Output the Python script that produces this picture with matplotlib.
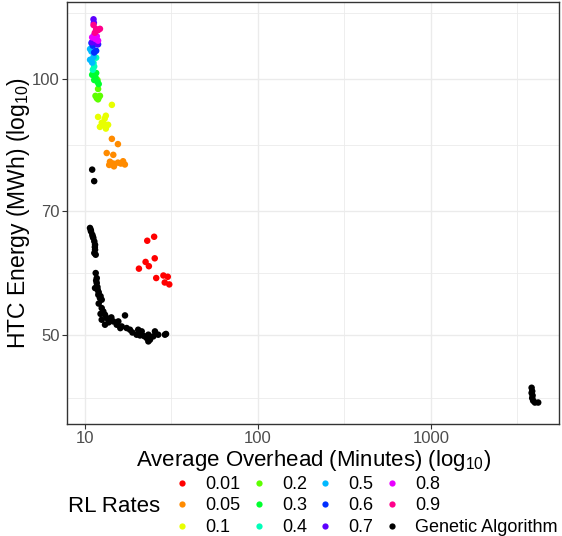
import matplotlib
matplotlib.use("Agg")
import matplotlib.pyplot as plt
from matplotlib.lines import Line2D
from matplotlib.ticker import FixedLocator, NullFormatter
import numpy as np

plt.rcParams['font.family'] = ['Liberation Sans', 'DejaVu Sans']
plt.rcParams['mathtext.fontset'] = 'custom'
plt.rcParams['mathtext.rm'] = 'Liberation Sans'
plt.rcParams['mathtext.it'] = 'Liberation Sans'

# ---- data ----
labels = ["0.01", "0.05", "0.1", "0.2", "0.3", "0.4", "0.5", "0.6", "0.7", "0.8", "0.9", "Genetic Algorithm"]
colors = ["#FF0000", "#FF8B00", "#E8FF00", "#5DFF00", "#00FF2E", "#00FFB9",
          "#00B9FF", "#002EFF", "#5D00FF", "#E800FF", "#FF008B", "#000000"]

x_001 = [20.5, 22.4, 22.9, 23.4, 25.1, 25.3, 25.8, 28.4, 28.9, 30.1, 30.7]
y_001 = [59.9, 61.0, 64.6, 60.3, 65.3, 61.6, 58.4, 58.8, 57.7, 58.6, 57.4]

x_005 = [14.3, 15.5, 13.35, 14.57, 13.94, 14.57, 15.5, 16.6, 17.0, 14.7, 13.8, 16.1]
y_005 = [85.1, 83.9, 81.9, 81.5, 80.0, 79.6, 79.8, 80.1, 79.4, 79.0, 79.3, 79.6]

x_01 = [14.3, 11.9, 13.2, 13.0, 12.5, 13.6, 12.2, 13.2, 12.9]
y_01 = [93.3, 90.3, 90.6, 89.9, 88.9, 88.4, 87.9, 87.5, 88.6]

x_02 = [11.8, 11.9, 11.5, 11.7, 12.0, 12.2, 11.9]
y_02 = [99.8, 97.4, 95.6, 95.0, 95.2, 95.6, 94.7]

x_03 = [11.6, 11.3, 11.8, 11.0, 11.5, 12.0]
y_03 = [101.7, 99.8, 99.3, 101.2, 100.5, 98.7]

x_04 = [11.3, 11.6, 11.2, 11.1, 11.3]
y_04 = [106.3, 106.0, 104.5, 102.6, 103.5]

x_05 = [10.7, 10.9, 10.7, 11.0, 11.2]
y_05 = [108.5, 107.8, 105.4, 104.6, 106.2]

x_06 = [10.9, 11.1, 11.5, 11.9, 11.6, 11.3]
y_06 = [110.3, 109.5, 110.5, 109.9, 108.0, 107.5]

x_07 = [11.2, 11.25, 11.0, 11.8, 11.3]
y_07 = [117.6, 116.5, 110.5, 110.0, 112.0]

x_08 = [11.0, 11.3, 11.7, 11.9, 11.5]
y_08 = [112.0, 112.7, 112.3, 111.0, 111.5]

x_09 = [11.2, 11.6, 11.9, 12.2, 11.4]
y_09 = [115.8, 114.5, 114.2, 114.6, 113.4]

x_ga = [11.0, 11.3,
        10.69, 10.83, 11.02, 11.17, 11.32, 11.43, 11.43, 11.32, 11.53, 10.8, 11.1, 11.4,
        11.53, 11.69, 11.69, 11.43, 11.84, 11.94, 12.2, 12.49, 11.6, 11.8, 12.0, 12.3,
        12.49, 12.76, 13.05, 12.49, 13.35, 13.94, 14.57, 15.58, 17.03, 15.25, 16.3, 17.41,
        18.2, 20.3, 19.88, 21.27, 22.74, 23.24, 24.8, 25.37, 26.5, 28.97, 23.75, 13.05,
        12.0, 12.3, 13.7, 14.2, 16.0, 18.8, 20.8, 22.0, 23.24, 29.4,
        3820, 3820, 3850, 3900, 3990, 4170, 3850, 3870]
y_ga = [78.3, 75.9,
        66.87, 66.25, 65.66, 65.08, 64.48, 63.9, 63.04, 62.48, 62.2, 66.5, 65.3, 63.5,
        59.19, 58.39, 57.61, 56.84, 56.57, 55.81, 55.32, 55.07, 58.0, 57.0, 56.2, 55.6,
        53.84, 53.35, 52.88, 52.17, 52.41, 52.17, 51.93, 51.93, 52.78, 51.47, 51.23, 51.01,
        50.78, 50.78, 50.10, 50.55, 49.65, 50.10, 49.87, 50.55, 50.10, 50.10, 49.43, 51.47,
        54.5, 53.0, 51.8, 52.5, 51.0, 50.4, 50.0, 49.9, 49.2, 50.2,
        43.4, 42.8, 42.2, 41.9, 41.7, 41.7, 43.0, 42.5]

series = [(x_001, y_001), (x_005, y_005), (x_01, y_01), (x_02, y_02), (x_03, y_03),
          (x_04, y_04), (x_05, y_05), (x_06, y_06), (x_07, y_07), (x_08, y_08),
          (x_09, y_09), (x_ga, y_ga)]

x_ticks = [10, 100, 1000]
y_ticks = [50, 70, 100]

# ---- figure ----
W, H = 562, 536
fig = plt.figure(figsize=(W / 100, H / 100), dpi=100)
ax = fig.add_axes([67.3 / W, 1 - 423.5 / H, (559 - 67.3) / W, (423.5 - 1.5) / H])

for (xs, ys), c in zip(series, colors):
    ax.scatter(xs, ys, s=22, color=c, edgecolors='none', zorder=3)

ax.set_xscale('log')
ax.set_yscale('log')
ax.set_xlim(7.9, 5500)
ax.set_ylim(39.4, 123.4)

ax.xaxis.set_major_locator(FixedLocator(x_ticks))
ax.yaxis.set_major_locator(FixedLocator(y_ticks))
ax.set_xticklabels([str(v) for v in x_ticks])
ax.set_yticklabels([str(v) for v in y_ticks])
xminor = [np.sqrt(10 * 100), np.sqrt(100 * 1000), np.sqrt(1000 * 10000)]
yminor = [np.sqrt(100 * 70), np.sqrt(70 * 50), 50 * 50 / np.sqrt(70 * 50), 100 * 100 / np.sqrt(100 * 70)]
ax.xaxis.set_minor_locator(FixedLocator(xminor))
ax.yaxis.set_minor_locator(FixedLocator(yminor))
ax.xaxis.set_minor_formatter(NullFormatter())
ax.yaxis.set_minor_formatter(NullFormatter())
ax.tick_params(which='minor', length=0)
ax.tick_params(which='major', length=3.5, width=0.8, color='#333333',
               labelsize=12, labelcolor='#4D4D4D', pad=2)

ax.grid(which='major', color='#EBEBEB', linewidth=1.0, zorder=0)
ax.grid(which='minor', color='#EBEBEB', linewidth=0.6, zorder=0)
ax.set_axisbelow(True)
for sp in ax.spines.values():
    sp.set_color('#333333')
    sp.set_linewidth(1.0)

ax.set_xlabel('Average Overhead (Minutes) (log$_{\\mathregular{10}}$)', fontsize=16, color='black', labelpad=1)
ax.set_ylabel('HTC Energy (MWh) (log$_{\\mathregular{10}}$)', fontsize=16.5, color='black', labelpad=0)

# ---- legend ----
handles = [Line2D([0], [0], marker='o', linestyle='none', markersize=4.5,
                  markerfacecolor=c, markeredgecolor='none') for c in colors]
fig.legend(handles, labels, ncol=4, loc='center left',
           bbox_to_anchor=(173 / W, 1 - 506 / H), frameon=False,
           fontsize=13, handlelength=1.0, handletextpad=0.8,
           columnspacing=0.5, labelspacing=0.25, borderpad=0, borderaxespad=0)
fig.text(68 / W, 1 - 506.5 / H, 'RL Rates', fontsize=16, va='center', ha='left')

fig.savefig('out.png', dpi=100)
